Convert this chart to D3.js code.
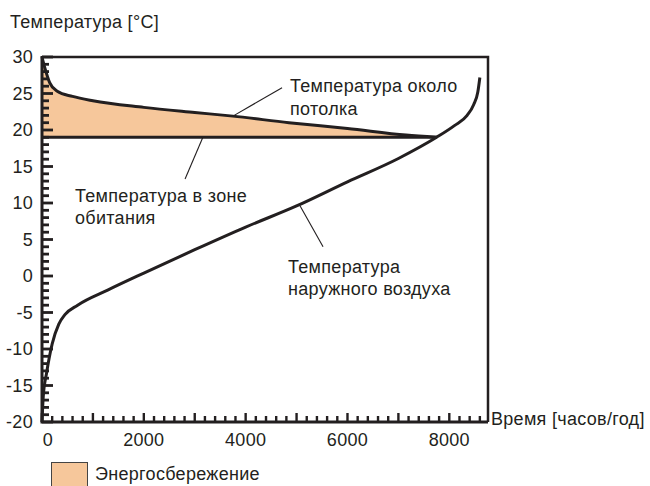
<!DOCTYPE html>
<html>
<head>
<meta charset="utf-8">
<script src="https://cdn.jsdelivr.net/npm/d3@7"></script>
<style>
  html, body { margin: 0; padding: 0; background: #fff; }
  svg { display: block; }
  text { font-family: "Liberation Sans", Arial, sans-serif; fill: #231f20; letter-spacing: 0.3px; }
</style>
</head>
<body>
<svg id="chart" width="650" height="486"></svg>
<script>
// ---- data ----
const ceilingHours = [0, 60, 150, 300, 600, 1000, 2000, 3000, 3750, 4850, 6000, 7150, 7750];
const ceilingTemp  = [30, 28.4, 26.5, 25.3, 24.6, 24.0, 23.1, 22.4, 21.9, 21.0, 20.2, 19.3, 19.0];

const outdoorHours = [0, 25, 90, 200, 330, 450, 700, 1300, 2000, 3000, 4000, 5000, 6000, 7000, 7750, 8100, 8350, 8480, 8560, 8600];
const outdoorTemp  = [-20, -16.5, -13.3, -9.3, -6.6, -5.3, -4.0, -1.9, 0.4, 3.6, 6.7, 9.6, 12.9, 16.1, 19.0, 20.6, 22.0, 23.5, 25.2, 27.2];

const zoneTemp = 19;          // occupied zone temperature
const zoneEndHours = 7750;    // where ceiling and outdoor curves meet the zone line

const yTickLabels = [30, 25, 20, 15, 10, 5, 0, -5, -10, -15, -20];
const xTickLabels = [0, 2000, 4000, 6000, 8000];

const yTitle = "Температура [°C]";
const xTitle = "Время [часов/год]";
const legendLabel = "Энергосбережение";
const labelCeiling = ["Температура около", "потолка"];
const labelZone = ["Температура в зоне", "обитания"];
const labelOutdoor = ["Температура", "наружного воздуха"];

// leader lines in data units: [hours, temp] -> [hours, temp]
const leaderCeiling = [[3750, 21.9], [4715, 25.8]];
const leaderZone    = [[3160, 19.0], [2810, 13.3]];
const leaderOutdoor = [[5070, 9.6], [5520, 4.0]];

// ---- layout ----
const svg = d3.select("#chart");
const L = 42, R = 488, T = 57, B = 422;
const ink = "#231f20";
const fillColor = "#f6c79b";
const fs = 18;

const x = d3.scaleLinear().domain([0, 8760]).range([L, R]);
const y = d3.scaleLinear().domain([-20, 30]).range([B, T]);

const ceilingPts = ceilingHours.map((h, i) => [h, ceilingTemp[i]]);
const outdoorPts = outdoorHours.map((h, i) => [h, outdoorTemp[i]]);

// fill area (energy saving)
const area = d3.area().x(d => x(d[0])).y0(y(zoneTemp)).y1(d => y(d[1])).curve(d3.curveMonotoneX);
svg.append("path").datum(ceilingPts).attr("d", area).attr("fill", fillColor);

// frame
svg.append("path").attr("d", `M${L},${T}H${R}V${B}`)
  .attr("fill", "none").attr("stroke", ink).attr("stroke-width", 2.5);
svg.append("path").attr("d", `M${L},${T - 1}V${B}H${R}`)
  .attr("fill", "none").attr("stroke", ink).attr("stroke-width", 3);

// y ticks (inward, to the right)
const yMinor = d3.range(-20, 31, 1);
svg.append("g").attr("class", "yticks").selectAll("line").data(yMinor).join("line")
  .attr("x1", L).attr("x2", d => L + (d % 5 === 0 ? 11 : 7))
  .attr("y1", d => y(d)).attr("y2", d => y(d))
  .attr("stroke", ink).attr("stroke-width", 2.8);

// x ticks (inward, upward)
const xMinor = d3.range(0, 8601, 200);
svg.append("g").attr("class", "xticks").selectAll("line").data(xMinor).join("line")
  .attr("x1", d => x(d)).attr("x2", d => x(d))
  .attr("y1", B).attr("y2", d => B - (d % 1000 === 0 ? 9 : 6))
  .attr("stroke", ink).attr("stroke-width", 2.4);

// tick labels
svg.append("g").selectAll("text").data(yTickLabels).join("text")
  .attr("x", L - 9).attr("y", d => y(d)).attr("dy", "0.35em")
  .attr("text-anchor", "end").attr("font-size", fs).text(d => String(d));
svg.append("g").selectAll("text").data(xTickLabels).join("text")
  .attr("x", d => x(d) + (d === 0 ? 6 : 0)).attr("y", B + 24)
  .attr("text-anchor", "middle").attr("font-size", fs).text(d => String(d));

// zone line
svg.append("line").attr("x1", x(0)).attr("x2", x(zoneEndHours))
  .attr("y1", y(zoneTemp)).attr("y2", y(zoneTemp)).attr("stroke", ink).attr("stroke-width", 3);

// curves
const line = d3.line().x(d => x(d[0])).y(d => y(d[1])).curve(d3.curveMonotoneX);
svg.append("path").datum(ceilingPts).attr("d", line).attr("fill", "none").attr("stroke", ink).attr("stroke-width", 3);
svg.append("path").datum(outdoorPts).attr("d", line).attr("fill", "none").attr("stroke", ink).attr("stroke-width", 3);

// leader lines
[leaderCeiling, leaderZone, leaderOutdoor].forEach(ld => {
  svg.append("line").attr("x1", x(ld[0][0])).attr("y1", y(ld[0][1]))
    .attr("x2", x(ld[1][0])).attr("y2", y(ld[1][1])).attr("stroke", ink).attr("stroke-width", 1.1);
});

// labels
function multi(lines, px, py, dy) {
  const t = svg.append("text").attr("font-size", fs);
  lines.forEach((s, i) => t.append("tspan").attr("x", px).attr("y", py + i * dy).text(s));
}
multi(labelCeiling, 290, 92, 23);
multi(labelZone, 75, 202, 21.5);
multi(labelOutdoor, 288, 273, 22);

svg.append("text").attr("x", 10).attr("y", 28).attr("font-size", fs).text(yTitle);
svg.append("text").attr("x", 491).attr("y", 425).attr("font-size", fs).text(xTitle);

// legend
svg.append("rect").attr("x", 51.5).attr("y", 462.5).attr("width", 36).attr("height", 24)
  .attr("fill", fillColor).attr("stroke", "#444").attr("stroke-width", 1);
svg.append("text").attr("x", 95).attr("y", 480).attr("font-size", fs).text(legendLabel);
</script>
</body>
</html>
